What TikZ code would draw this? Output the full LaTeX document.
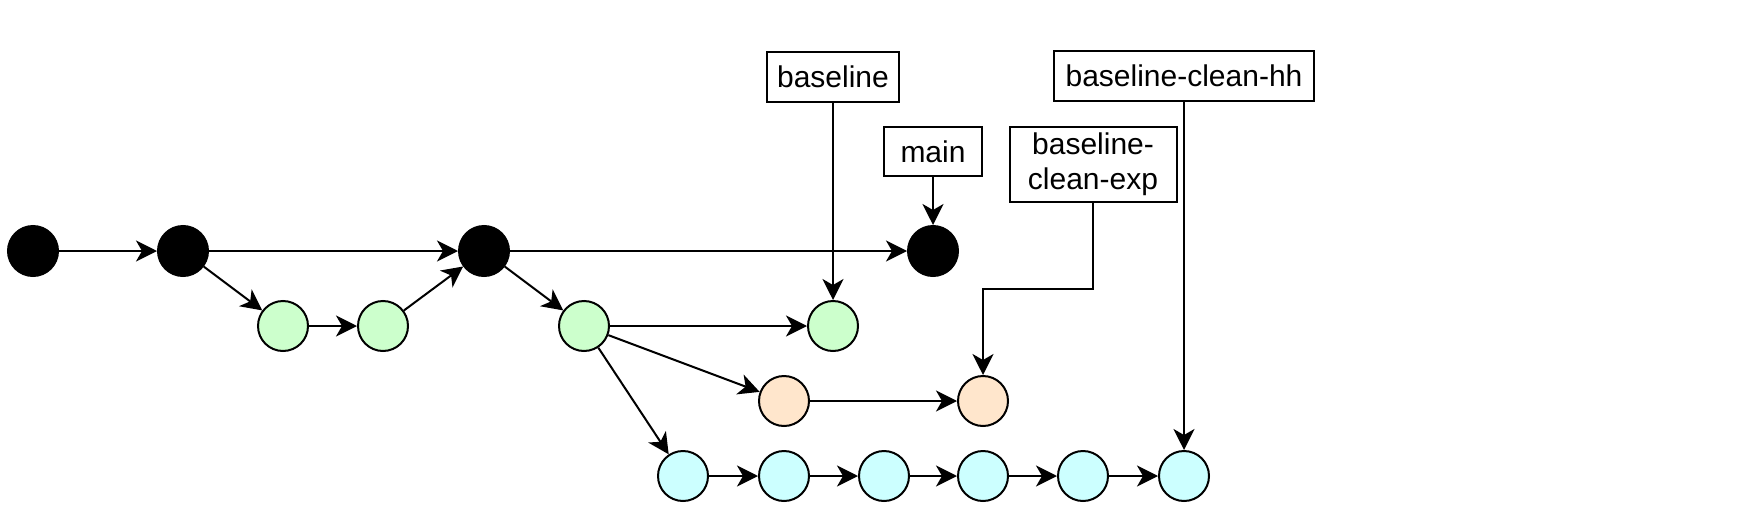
\documentclass[tikz,border=0pt]{standalone}
\usepackage{fontspec}
\setmainfont{Liberation Sans}
\usetikzlibrary{arrows.meta}
\definecolor{mintgreen}{HTML}{CCFFCC}
\definecolor{peach}{HTML}{FFE6CC}
\definecolor{paleaqua}{HTML}{CCFFFF}

\begin{document}
\begin{tikzpicture}[x=0.5pt,y=-0.5pt,
	commit/.style={circle, draw=black, line width=1pt, fill=black, minimum size=25pt, inner sep=0pt},
	greencommit/.style={commit, fill=mintgreen},
	peachcommit/.style={commit, fill=peach},
	aquacommit/.style={commit, fill=paleaqua},
	tagbox/.style={rectangle, draw=black, line width=1pt, fill=white, inner sep=0pt, align=center, font=\fontsize{15}{17.5}\selectfont},
	edge/.style={line width=1pt, -{Stealth[length=10.5pt,width=10.5pt,inset=3pt]}},
	]
	\useasboundingbox (0,0) rectangle (1755,530);
	%Nodes
	\node[commit]      (m0)	at	(33,251)	{};
	\node[commit]      (m1)	at	(183,251)	{};
	\node[commit]      (m2)	at	(484,251)	{};
	\node[commit]      (m3)	at	(933,251)	{};
	\node[greencommit] (g0)	at	(283,326)	{};
	\node[greencommit] (g1)	at	(383,326)	{};
	\node[greencommit] (g2)	at	(584,326)	{};
	\node[greencommit] (g3)	at	(833,326)	{};
	\node[peachcommit] (p0)	at	(784,401)	{};
	\node[peachcommit] (p1)	at	(983,401)	{};
	\node[aquacommit]  (a0)	at	(683,476)	{};
	\node[aquacommit]  (a1)	at	(784,476)	{};
	\node[aquacommit]  (a2)	at	(884,476)	{};
	\node[aquacommit]  (a3)	at	(983,476)	{};
	\node[aquacommit]  (a4)	at	(1083,476)	{};
	\node[aquacommit]  (a5)	at	(1184,476)	{};
	%Branch labels
	\node[tagbox, minimum width=66pt, minimum height=25pt]     (baseline)	at	(833,77)	{baseline};
	\node[tagbox, minimum width=49pt, minimum height=24.5pt]   (main)	at	(933,151.5)	{main};
	\node[tagbox, minimum width=83.5pt, minimum height=37.5pt] (cleanexp)	at	(1093,164.5)	{baseline-\\clean-exp};
	\node[tagbox, minimum width=130pt, minimum height=25pt]    (cleanhh)	at	(1184,76)	{baseline-clean-hh};
	\coordinate (expbend) at (1093,289);

	\draw[edge] (m0) -- (m1);
	\draw[edge] (m1) -- (m2);
	\draw[edge] (m2) -- (m3);
	\draw[edge] (m1) -- (g0);
	\draw[edge] (g0) -- (g1);
	\draw[edge] (g1) -- (m2);
	\draw[edge] (m2) -- (g2);
	\draw[edge] (g2) -- (g3);
	\draw[edge] (g2) -- (p0);
	\draw[edge] (g2) -- (a0);
	\draw[edge] (p0) -- (p1);
	\foreach \i/\j in {0/1,1/2,2/3,3/4,4/5}
		\draw[edge] (a\i) -- (a\j);
	\draw[edge] (baseline) -- (g3);
	\draw[edge] (main) -- (m3);
	\draw[edge] (cleanexp) -- (expbend) -| (p1);
	\draw[edge] (cleanhh) -- (a5);
\end{tikzpicture}
\end{document}
